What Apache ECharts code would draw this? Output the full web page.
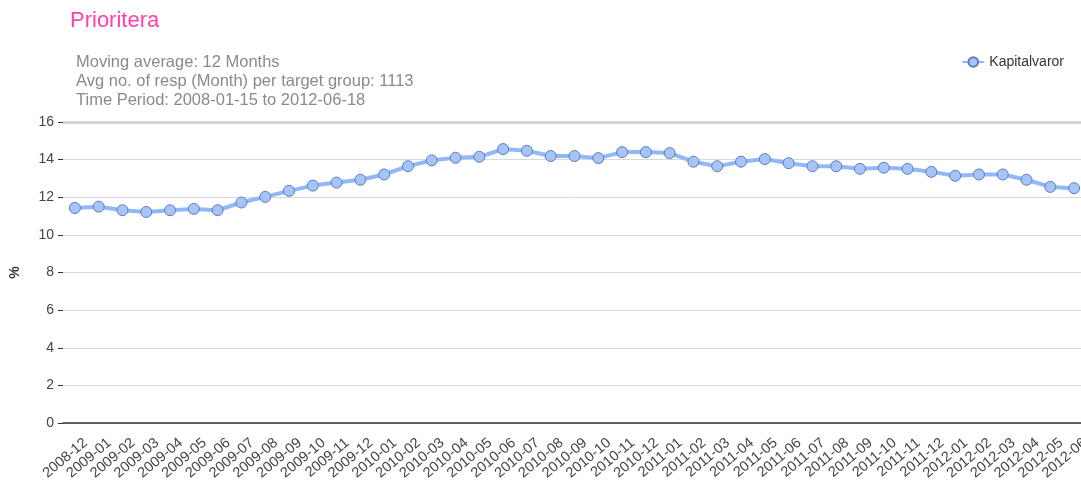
<!DOCTYPE html>
<html lang="en">
<head>
    <meta charset="UTF-8">
    <title>Prioritera</title>
    <style>
        html, body { margin: 0; padding: 0; background: #fff; }
        #root { width: 1081px; height: 481px; }
    </style>
</head>
<body>
    <div id="root"></div>
    <script src="https://cdn.jsdelivr.net/npm/echarts@6/dist/echarts.min.js"></script>
    <script>
        var months = [
            "2008-12",
            "2009-01", "2009-02", "2009-03", "2009-04", "2009-05", "2009-06",
            "2009-07", "2009-08", "2009-09", "2009-10", "2009-11", "2009-12",
            "2010-01", "2010-02", "2010-03", "2010-04", "2010-05", "2010-06",
            "2010-07", "2010-08", "2010-09", "2010-10", "2010-11", "2010-12",
            "2011-01", "2011-02", "2011-03", "2011-04", "2011-05", "2011-06",
            "2011-07", "2011-08", "2011-09", "2011-10", "2011-11", "2011-12",
            "2012-01", "2012-02", "2012-03", "2012-04", "2012-05", "2012-06"
        ];
        var kapitalvaror = [
            11.43, 11.50, 11.31, 11.22, 11.31, 11.38, 11.31, 11.72, 12.02, 12.34,
            12.62, 12.78, 12.93, 13.21, 13.65, 13.96, 14.10, 14.15, 14.56, 14.47,
            14.19, 14.19, 14.08, 14.40, 14.40, 14.35, 13.89, 13.65, 13.89, 14.03,
            13.81, 13.65, 13.65, 13.51, 13.57, 13.51, 13.35, 13.14, 13.21, 13.21,
            12.93, 12.55, 12.48
        ];
        var infoLines = [
            "Moving average: 12 Months",
            "Avg no. of resp (Month) per target group: 1113",
            "Time Period: 2008-01-15 to 2012-06-18"
        ];

        var font = "Liberation Sans, Arial, sans-serif";
        var chart = echarts.init(document.getElementById("root"));
        chart.setOption({
            animation: false,
            textStyle: { fontFamily: font },
            title: [
                {
                    text: "Prioritera",
                    left: 65,
                    top: 5,
                    textStyle: { color: "#ff3fb0", fontSize: 22, fontWeight: "normal", fontFamily: font }
                },
                {
                    text: infoLines.join("\n"),
                    left: 71,
                    top: 48,
                    textStyle: { color: "#8a8a8a", fontSize: 16.5, lineHeight: 19, fontWeight: "normal", fontFamily: font }
                }
            ],
            legend: {
                right: 12,
                top: 50,
                itemWidth: 22,
                itemHeight: 12,
                itemGap: 4,
                textStyle: { color: "#333", fontSize: 14, fontFamily: font },
                data: ["Kapitalvaror"]
            },
            grid: {
                left: 63,
                right: -5,
                top: 122,
                bottom: 58,
                outerBoundsMode: "none"
            },
            xAxis: {
                type: "category",
                data: months,
                boundaryGap: true,
                axisLine: { lineStyle: { color: "#333", width: 1.5 } },
                axisTick: { alignWithLabel: true, length: 5, lineStyle: { color: "#333" } },
                axisLabel: {
                    interval: 0,
                    rotate: 40,
                    margin: 27,
                    padding: [0, -14, 0, 0],
                    color: "#444",
                    fontSize: 14.5,
                    fontFamily: font,
                    hideOverlap: false
                },
                splitLine: { show: false }
            },
            yAxis: {
                type: "value",
                min: 0,
                max: 16,
                interval: 2,
                name: "%",
                nameLocation: "middle",
                nameGap: 41,
                nameRotate: 90,
                nameTextStyle: { color: "#333", fontSize: 14, fontWeight: "bold", fontFamily: font },
                axisLine: { show: false },
                axisTick: { show: true, length: 5, lineStyle: { color: "#333" } },
                axisLabel: { color: "#444", fontSize: 14, margin: 9, fontFamily: font },
                splitLine: { lineStyle: { color: "#d9d9d9", width: 1 } }
            },
            series: [
                {
                    name: "Kapitalvaror",
                    type: "line",
                    data: kapitalvaror,
                    symbol: "circle",
                    symbolSize: 11,
                    lineStyle: { color: "#92b8f8", width: 4 },
                    itemStyle: { color: "#a6c5f7", borderColor: "#5a7dbd", borderWidth: 1 },
                    markLine: {
                        silent: true,
                        symbol: "none",
                        label: { show: false },
                        lineStyle: { color: "#cfcfcf", width: 2.5, type: "solid" },
                        data: [{ yAxis: 16 }]
                    }
                }
            ]
        });
    </script>
</body>
</html>
